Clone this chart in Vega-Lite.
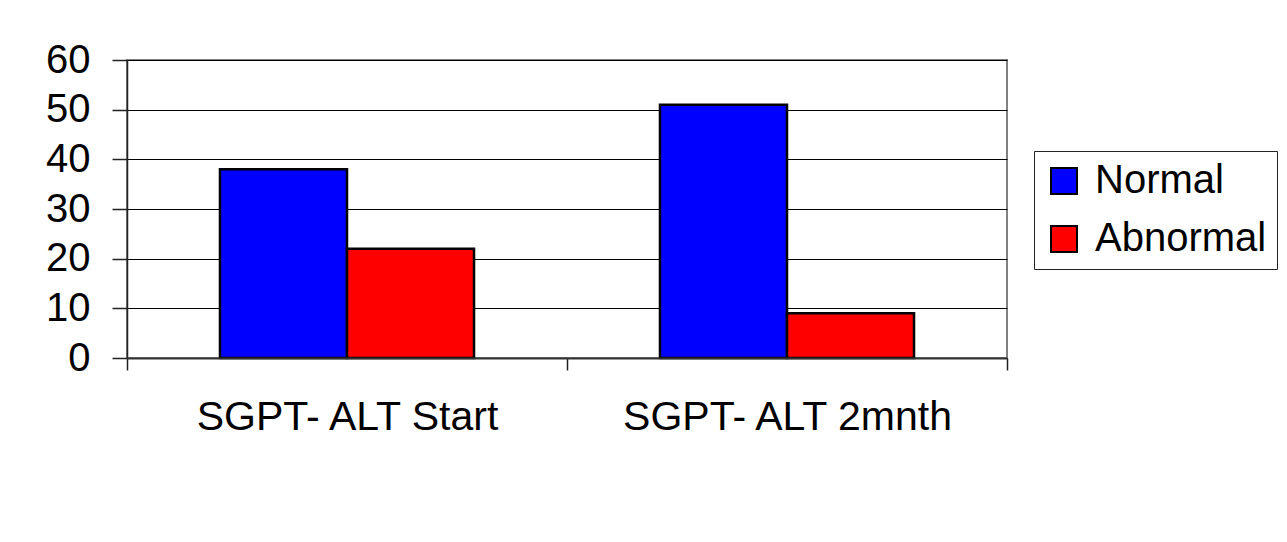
{
  "$schema": "https://vega.github.io/schema/vega-lite/v6.json",
  "autosize": {"type": "none"},
  "padding": {"left": 127, "top": 60, "right": 280, "bottom": 184},
  "width": 880,
  "height": 298,
  "background": "white",
  "data": {
    "values": [
      {"test": "SGPT- ALT Start", "status": "Normal", "count": 38},
      {"test": "SGPT- ALT Start", "status": "Abnormal", "count": 22},
      {"test": "SGPT- ALT 2mnth", "status": "Normal", "count": 51},
      {"test": "SGPT- ALT 2mnth", "status": "Abnormal", "count": 9}
    ]
  },
  "mark": {"type": "bar", "stroke": "black", "strokeWidth": 2.5},
  "encoding": {
    "x": {
      "field": "test",
      "type": "nominal",
      "sort": ["SGPT- ALT Start", "SGPT- ALT 2mnth"],
      "scale": {"paddingInner": 0, "paddingOuter": 0},
      "axis": {
        "title": null,
        "labelAngle": 0,
        "labelFont": "Liberation Sans",
        "labelFontSize": 41,
        "labelColor": "black",
        "labelPadding": 27,
        "labelLimit": 600,
        "tickBand": "extent",
        "tickSize": 12,
        "tickColor": "#222",
        "tickWidth": 1.5,
        "domainColor": "#333",
        "domainWidth": 2,
        "grid": false,
        "zindex": 1
      }
    },
    "xOffset": {
      "field": "status",
      "type": "nominal",
      "sort": ["Normal", "Abnormal"],
      "scale": {"paddingInner": 0, "paddingOuter": 0.732}
    },
    "y": {
      "field": "count",
      "type": "quantitative",
      "scale": {"domain": [0, 60]},
      "axis": {
        "title": null,
        "values": [0, 10, 20, 30, 40, 50, 60],
        "labelFont": "Liberation Sans",
        "labelFontSize": 40,
        "labelColor": "black",
        "labelPadding": 22,
        "tickSize": 15,
        "tickColor": "#222",
        "tickWidth": 1.5,
        "domainColor": "#222",
        "domainWidth": 1.5,
        "grid": true,
        "gridColor": "black",
        "gridWidth": 1,
        "gridOpacity": 1,
        "zindex": 0
      }
    },
    "fill": {
      "field": "status",
      "type": "nominal",
      "scale": {"domain": ["Normal", "Abnormal"], "range": ["#0000FF", "#FF0000"]},
      "legend": {
        "title": null,
        "orient": "none",
        "legendX": 907,
        "legendY": 91,
        "padding": 10,
        "strokeColor": "#222",
        "fillColor": "white",
        "symbolType": "square",
        "symbolSize": 676,
        "symbolStrokeColor": "black",
        "symbolStrokeWidth": 2,
        "symbolOpacity": 1,
        "labelFont": "Liberation Sans",
        "labelFontSize": 40,
        "labelColor": "black",
        "labelOffset": 11,
        "rowPadding": 18,
        "labelLimit": 400
      }
    }
  },
  "config": {
    "view": {"stroke": "#808080", "strokeWidth": 2}
  }
}
